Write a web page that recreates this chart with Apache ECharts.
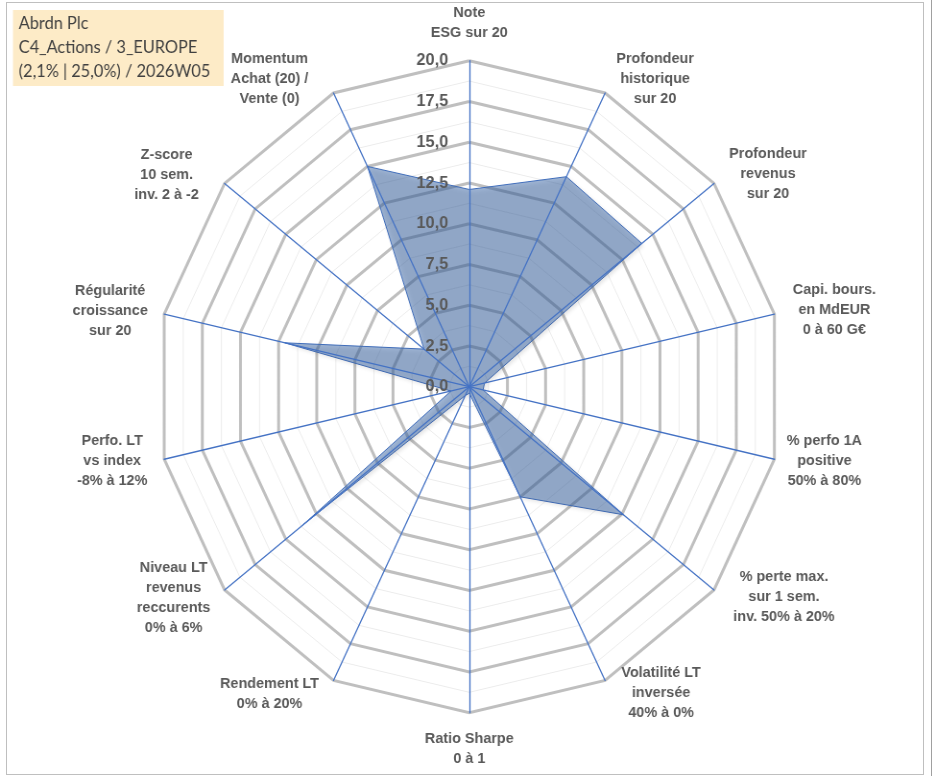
<!DOCTYPE html>
<html>
<head>
<meta charset="utf-8">
<script src="https://cdn.jsdelivr.net/npm/echarts@6/dist/echarts.min.js"></script>
<style>
  html, body { margin: 0; padding: 0; background: #fff; }
  #wrap { position: relative; width: 933px; height: 776px; overflow: hidden; }
  /* the source picture is slightly squeezed horizontally */
  #chart { width: 972px; height: 776px; transform: scaleX(0.96); transform-origin: 0 0; }
  #frame { position: absolute; left: 6px; top: 2px; width: 916px; height: 771px;
           border: 1px solid #bfbfbf; pointer-events: none; }
  #edge { position: absolute; left: 931px; top: 0; width: 1px; height: 776px; background: #a0a0a0; }
</style>
</head>
<body>
<div id="wrap">
  <div id="chart"></div>
  <div id="frame"></div>
  <div id="edge"></div>
</div>
<script>
// axes in clockwise order, starting at the top
var axisNames = [
  'Note\nESG sur 20',
  'Profondeur\nhistorique\nsur 20',
  'Profondeur\nrevenus\nsur 20',
  'Capi. bours.\nen MdEUR\n0 à 60 G€',
  '% perfo 1A\npositive\n50% à 80%',
  '% perte max.\nsur 1 sem.\ninv. 50% à 20%',
  'Volatilité LT\ninversée\n40% à 0%',
  'Ratio Sharpe\n0 à 1',
  'Rendement LT\n0% à 20%',
  'Niveau LT\nrevenus\nreccurents\n0% à 6%',
  'Perfo. LT\nvs index\n-8% à 12%',
  'Régularité\ncroissance\nsur 20',
  'Z-score\n10 sem.\ninv. 2 à -2',
  'Momentum\nAchat (20) /\nVente (0)'
];
var scores = [12.1, 14.3, 14.1, 1.0, 0.9, 12.6, 7.5, 0.4, 0.6, 13.6, 1.2, 12.1, 3.7, 15.0];
var scaleMax = 20;
var titleLines = ['Abrdn Plc', 'C4_Actions / 3_EUROPE', '(2,1% | 25,0%) / 2026W05'];

// label placement: shift of each name block from its spoke end (screen px)
var nameShift = [
  [0, -38], [50, -14], [54, -10], [60, -4], [50, 2], [70, 7], [56, 12],
  [0, 36], [-64, 13], [-51, 8], [-52, 2], [-54, -3], [-58, -9], [-64, -14]
];
var squeeze = 0.96;

var chart = echarts.init(document.getElementById('chart'));

// echarts draws radar counter-clockwise, so keep the first axis and reverse the rest
function ccw(arr) {
  return [arr[0]].concat(arr.slice(1).reverse());
}
var names = ccw(axisNames);
var vals = ccw(scores);
var shifts = ccw(nameShift);

var indicators = names.map(function (n, i) {
  var ind = { name: n, min: 0, max: scaleMax };
  if (i === 0) {
    ind.axisLabel = {
      show: true,
      color: '#595959',
      fontSize: 17,
      fontWeight: 'bold',
      fontFamily: 'Liberation Sans',
      margin: 22,
      formatter: function (v) { return Number(v).toFixed(1).replace('.', ','); }
    };
  }
  return ind;
});
var plain = names.map(function () { return { name: '', min: 0, max: scaleMax }; });

var common = {
  center: [469.3 / squeeze, 386.7],
  radius: 326,
  startAngle: 90,
  shape: 'polygon',
  splitArea: { show: false },
  axisName: { show: false }
};

chart.setOption({
  animation: false,
  title: {
    text: titleLines.join('\n'),
    left: 13 / squeeze,
    top: 10,
    backgroundColor: '#fdebc7',
    padding: [2, 14, 2, 6],
    textStyle: {
      fontFamily: 'Lato',
      fontWeight: 'normal',
      fontSize: 17,
      lineHeight: 24,
      color: '#404040'
    }
  },
  radar: [
    // faint half-step rings
    Object.assign({}, common, {
      indicator: plain,
      splitNumber: 16,
      axisLine: { show: false },
      axisLabel: { show: false },
      splitLine: { lineStyle: { color: '#ececec', width: 1 } }
    }),
    // main rings, under the area
    Object.assign({}, common, {
      indicator: plain,
      splitNumber: 8,
      axisLine: { show: false },
      axisLabel: { show: false },
      splitLine: { lineStyle: { color: '#bfbfbf', width: 3 } }
    }),
    // spokes and tick labels, above the area
    Object.assign({}, common, {
      z: 10,
      indicator: indicators,
      splitNumber: 8,
      axisLine: { lineStyle: { color: '#4472c4', width: 1.3 } },
      axisLabel: { show: false },
      splitLine: { show: false }
    })
  ],
  series: [{
    type: 'radar',
    radarIndex: 2,
    z: 2,
    symbol: 'none',
    lineStyle: { color: '#4472c4', width: 1 },
    areaStyle: {
      color: 'rgba(60,105,170,0.7)',
      shadowColor: 'rgba(0,0,0,0.25)',
      shadowBlur: 4,
      shadowOffsetX: 2,
      shadowOffsetY: 2
    },
    data: [{ value: vals, name: 'Abrdn Plc' }]
  }]
});

// axis names: anchored at each spoke end given by the radar itself
var radarCs = chart.getModel().getComponent('radar', 2).coordinateSystem;
chart.setOption({
  graphic: names.map(function (n, i) {
    var p = radarCs.dataToPoint(scaleMax, i);
    return {
      type: 'text',
      silent: true,
      x: p[0] + shifts[i][0] / squeeze,
      y: p[1] + shifts[i][1],
      style: {
        text: n,
        align: 'center',
        verticalAlign: 'middle',
        fill: '#595959',
        font: 'bold 15px "Liberation Sans"',
        lineHeight: 20
      }
    };
  })
});
</script>
</body>
</html>
